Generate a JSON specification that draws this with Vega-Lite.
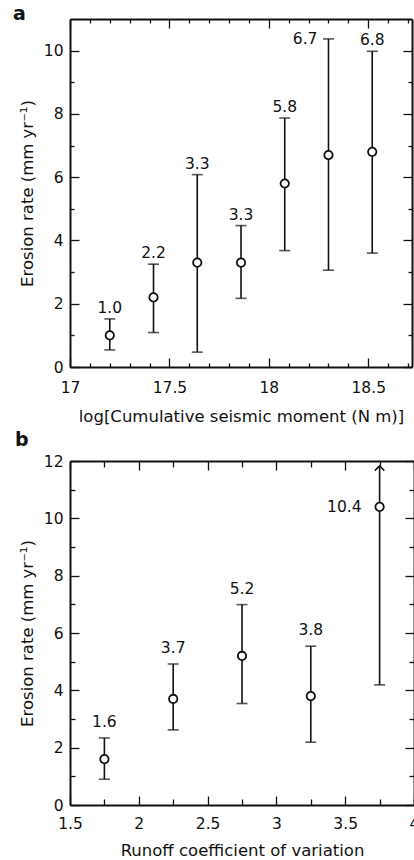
{
  "$schema": "https://vega.github.io/schema/vega-lite/v6.json",
  "padding": {"left": 13, "top": 5, "right": 0, "bottom": 0},
  "spacing": 6,
  "config": {
    "font": "DejaVu Sans",
    "view": {"stroke": null},
    "axis": {
      "grid": false,
      "domainColor": "#111",
      "domainWidth": 2,
      "tickColor": "#111",
      "tickWidth": 1.3,
      "labelFont": "DejaVu Sans",
      "labelFontSize": 15.5,
      "labelColor": "#111",
      "labelFlush": false,
      "labelOverlap": false,
      "titleFont": "DejaVu Sans",
      "titleFontSize": 16.5,
      "titleFontWeight": "normal",
      "titleColor": "#111"
    },
    "title": {"font": "DejaVu Sans", "fontSize": 19, "fontWeight": "bold", "color": "#111", "anchor": "start", "frame": "group"}
  },
  "datasets": {
    "seismic": [
      {"moment": 17.2, "rate": 1.0, "lo": 0.54, "hi": 1.52},
      {"moment": 17.42, "rate": 2.2, "lo": 1.09, "hi": 3.25},
      {"moment": 17.64, "rate": 3.3, "lo": 0.47, "hi": 6.08},
      {"moment": 17.86, "rate": 3.3, "lo": 2.17, "hi": 4.47},
      {"moment": 18.08, "rate": 5.8, "lo": 3.68, "hi": 7.87},
      {"moment": 18.3, "rate": 6.7, "lo": 3.06, "hi": 10.37},
      {"moment": 18.52, "rate": 6.8, "lo": 3.6, "hi": 9.98}
    ],
    "runoff": [
      {"cv": 1.75, "rate": 1.6, "lo": 0.9, "hi": 2.34, "upper_open": false},
      {"cv": 2.25, "rate": 3.7, "lo": 2.62, "hi": 4.92, "upper_open": false},
      {"cv": 2.75, "rate": 5.2, "lo": 3.54, "hi": 6.99, "upper_open": false},
      {"cv": 3.25, "rate": 3.8, "lo": 2.19, "hi": 5.54, "upper_open": false},
      {"cv": 3.75, "rate": 10.4, "lo": 4.19, "hi": 11.83, "upper_open": true}
    ]
  },
  "vconcat": [
    {
      "title": {"text": "a", "dx": -57, "offset": -6},
      "width": 342,
      "height": 348,
      "data": {"name": "seismic"},
      "resolve": {"axis": {"x": "independent", "y": "independent"}},
      "layer": [
        {
          "mark": {"type": "rule", "color": "#111", "strokeWidth": 1.6},
          "encoding": {
            "x": {"field": "moment", "type": "quantitative",
              "scale": {"domain": [17, 18.72], "nice": false, "zero": false},
              "axis": {"orient": "bottom", "title": "log[Cumulative seismic moment (N m)]",
                "values": [17, 17.1, 17.2, 17.3, 17.4, 17.5, 17.6, 17.7, 17.8, 17.9, 18, 18.1, 18.2, 18.3, 18.4, 18.5, 18.6, 18.7],
                "tickSize": {"condition": {"test": "abs(datum.value*2-round(datum.value*2))<1e-6", "value": -9}, "value": -4},
                "labelExpr": "abs(datum.value*2-round(datum.value*2))<1e-6 ? format(datum.value,'~g') : ''",
                "labelPadding": 22, "titlePadding": 8}},
            "y": {"field": "lo", "type": "quantitative",
              "scale": {"domain": [0, 11], "nice": false},
              "axis": {"orient": "left", "title": "Erosion rate (mm yr⁻¹)",
                "values": [0, 1, 2, 3, 4, 5, 6, 7, 8, 9, 10],
                "tickSize": {"condition": {"test": "datum.value % 2 == 0", "value": -9}, "value": -4},
                "labelExpr": "datum.value % 2 == 0 ? format(datum.value,'~g') : ''",
                "labelPadding": 16, "titlePadding": 8}},
            "y2": {"field": "hi"}
          }
        },
        {
          "mark": {"type": "tick", "orient": "horizontal", "color": "#111", "size": 11, "thickness": 1.6},
          "encoding": {
            "x": {"field": "moment", "type": "quantitative",
              "axis": {"orient": "top", "title": null, "labels": false,
                "values": [17, 17.1, 17.2, 17.3, 17.4, 17.5, 17.6, 17.7, 17.8, 17.9, 18, 18.1, 18.2, 18.3, 18.4, 18.5, 18.6, 18.7],
                "tickSize": {"condition": {"test": "abs(datum.value*2-round(datum.value*2))<1e-6", "value": -9}, "value": -4}}},
            "y": {"field": "hi", "type": "quantitative",
              "axis": {"orient": "right", "title": null, "labels": false,
                "values": [0, 1, 2, 3, 4, 5, 6, 7, 8, 9, 10],
                "tickSize": {"condition": {"test": "datum.value % 2 == 0", "value": -9}, "value": -4}}}
          }
        },
        {
          "mark": {"type": "tick", "orient": "horizontal", "color": "#111", "size": 11, "thickness": 1.6},
          "encoding": {
            "x": {"field": "moment", "type": "quantitative", "axis": null},
            "y": {"field": "lo", "type": "quantitative", "axis": null}
          }
        },
        {
          "mark": {"type": "point", "shape": "circle", "filled": true, "fill": "white", "stroke": "#111", "strokeWidth": 1.8, "size": 70, "opacity": 1},
          "encoding": {
            "x": {"field": "moment", "type": "quantitative", "axis": null},
            "y": {"field": "rate", "type": "quantitative", "axis": null}
          }
        },
        {
          "transform": [{"filter": "datum.rate != 6.7"}],
          "mark": {"type": "text", "fontSize": 15.5, "color": "#111", "baseline": "alphabetic", "dy": -6},
          "encoding": {
            "x": {"field": "moment", "type": "quantitative", "axis": null},
            "y": {"field": "hi", "type": "quantitative", "axis": null},
            "text": {"field": "rate", "type": "quantitative", "format": ".1f"}
          }
        },
        {
          "transform": [{"filter": "datum.rate == 6.7"}],
          "mark": {"type": "text", "fontSize": 15.5, "color": "#111", "baseline": "middle", "align": "right", "dx": -11},
          "encoding": {
            "x": {"field": "moment", "type": "quantitative", "axis": null},
            "y": {"field": "hi", "type": "quantitative", "axis": null},
            "text": {"field": "rate", "type": "quantitative", "format": ".1f"}
          }
        }
      ]
    },
    {
      "title": {"text": "b", "dx": -55, "offset": 4},
      "width": 344,
      "height": 344,
      "data": {"name": "runoff"},
      "resolve": {"axis": {"x": "independent", "y": "independent"}},
      "layer": [
        {
          "mark": {"type": "rule", "color": "#111", "strokeWidth": 1.6},
          "encoding": {
            "x": {"field": "cv", "type": "quantitative",
              "scale": {"domain": [1.5, 4], "nice": false, "zero": false},
              "axis": {"orient": "bottom", "title": "Runoff coefficient of variation",
                "values": [1.5, 1.75, 2, 2.25, 2.5, 2.75, 3, 3.25, 3.5, 3.75, 4],
                "tickSize": {"condition": {"test": "abs(datum.value*2-round(datum.value*2))<1e-6", "value": -9}, "value": -6},
                "labelExpr": "abs(datum.value*2-round(datum.value*2))<1e-6 ? format(datum.value,'~g') : ''",
                "labelPadding": 20, "titlePadding": 8}},
            "y": {"field": "lo", "type": "quantitative",
              "scale": {"domain": [0, 12], "nice": false},
              "axis": {"orient": "left", "title": "Erosion rate (mm yr⁻¹)",
                "values": [0, 1, 2, 3, 4, 5, 6, 7, 8, 9, 10, 11, 12],
                "tickSize": {"condition": {"test": "datum.value % 2 == 0", "value": -9}, "value": -5},
                "labelExpr": "datum.value % 2 == 0 ? format(datum.value,'~g') : ''",
                "labelPadding": 16, "titlePadding": 8}},
            "y2": {"field": "hi"}
          }
        },
        {
          "transform": [{"filter": "!datum.upper_open"}],
          "mark": {"type": "tick", "orient": "horizontal", "color": "#111", "size": 11, "thickness": 1.6},
          "encoding": {
            "x": {"field": "cv", "type": "quantitative",
              "axis": {"orient": "top", "title": null, "labels": false,
                "values": [1.5, 1.75, 2, 2.25, 2.5, 2.75, 3, 3.25, 3.5, 3.75, 4],
                "tickSize": {"condition": {"test": "abs(datum.value*2-round(datum.value*2))<1e-6", "value": -9}, "value": -6}}},
            "y": {"field": "hi", "type": "quantitative",
              "axis": {"orient": "right", "title": null, "labels": false,
                "values": [0, 1, 2, 3, 4, 5, 6, 7, 8, 9, 10, 11, 12],
                "tickSize": {"condition": {"test": "datum.value % 2 == 0", "value": -9}, "value": -5}}}
          }
        },
        {
          "mark": {"type": "tick", "orient": "horizontal", "color": "#111", "size": 11, "thickness": 1.6},
          "encoding": {
            "x": {"field": "cv", "type": "quantitative", "axis": null},
            "y": {"field": "lo", "type": "quantitative", "axis": null}
          }
        },
        {
          "transform": [{"filter": "datum.upper_open"}],
          "mark": {"type": "point", "shape": "M -1 1 L 0 0 L 1 1", "filled": false, "stroke": "#111", "strokeWidth": 1.5, "size": 90, "opacity": 1},
          "encoding": {
            "x": {"field": "cv", "type": "quantitative", "axis": null},
            "y": {"field": "hi", "type": "quantitative", "axis": null}
          }
        },
        {
          "mark": {"type": "point", "shape": "circle", "filled": true, "fill": "white", "stroke": "#111", "strokeWidth": 1.8, "size": 70, "opacity": 1},
          "encoding": {
            "x": {"field": "cv", "type": "quantitative", "axis": null},
            "y": {"field": "rate", "type": "quantitative", "axis": null}
          }
        },
        {
          "transform": [{"filter": "!datum.upper_open"}],
          "mark": {"type": "text", "fontSize": 15.5, "color": "#111", "baseline": "alphabetic", "dy": -11},
          "encoding": {
            "x": {"field": "cv", "type": "quantitative", "axis": null},
            "y": {"field": "hi", "type": "quantitative", "axis": null},
            "text": {"field": "rate", "type": "quantitative", "format": ".1f"}
          }
        },
        {
          "transform": [{"filter": "datum.upper_open"}],
          "mark": {"type": "text", "fontSize": 15.5, "color": "#111", "baseline": "middle", "align": "right", "dx": -18},
          "encoding": {
            "x": {"field": "cv", "type": "quantitative", "axis": null},
            "y": {"field": "rate", "type": "quantitative", "axis": null},
            "text": {"field": "rate", "type": "quantitative", "format": ".1f"}
          }
        }
      ]
    }
  ]
}
